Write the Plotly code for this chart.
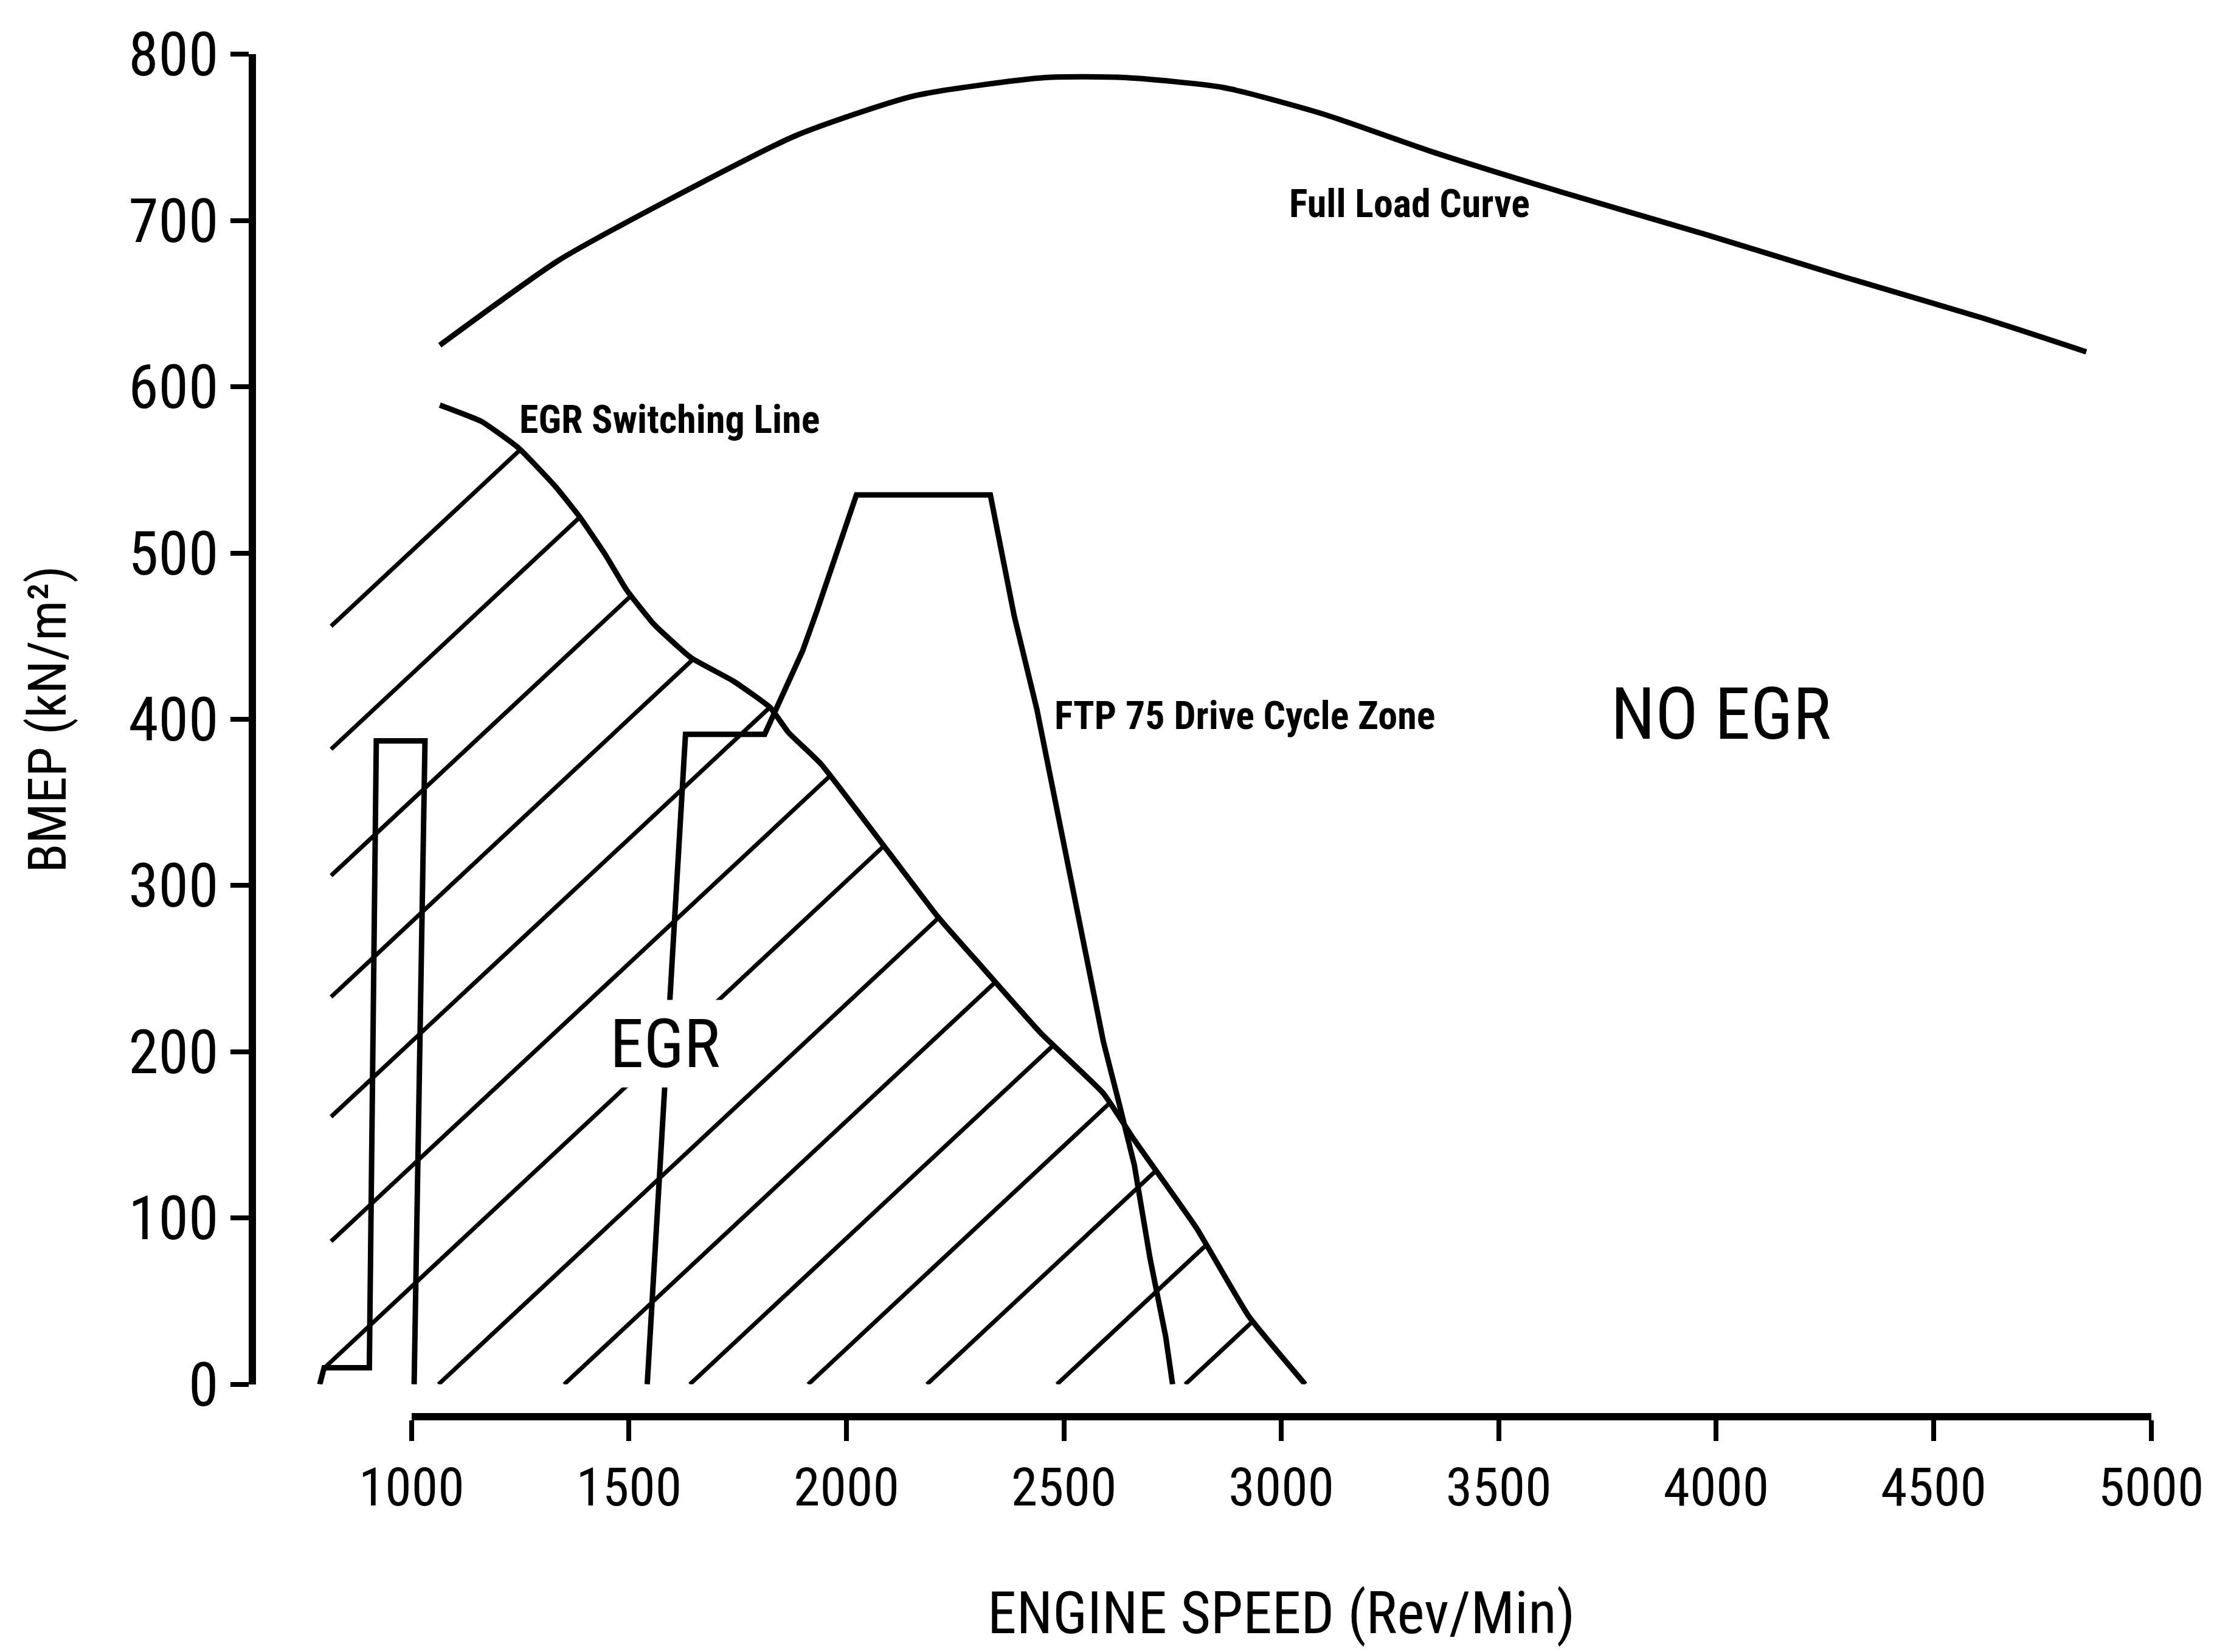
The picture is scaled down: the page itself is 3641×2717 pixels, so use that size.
import numpy as np
import plotly.graph_objects as go

# ---------------- data ----------------
full_load_speed = [1065, 1338, 1581, 1883, 2156, 2458, 2640, 2867, 3097, 3351, 3646, 3971, 4295, 4617, 4851]
full_load_bmep = [625, 676, 711, 751, 775, 786, 786, 780, 764, 741, 717, 692, 666, 641, 621]

switch_speed = [1065, 1162, 1247, 1331, 1386, 1448, 1494, 1558, 1643, 1740, 1825, 1867, 1942,
                2211, 2312, 2448, 2591, 2662, 2805, 2925, 3055]
switch_bmep = [589, 579, 563, 540, 522, 498, 478, 457, 437, 423, 407, 392, 373,
               281, 251, 211, 175, 147, 94, 41, 0]

ftp_speed = [1542, 1630, 1812, 1834, 1867, 1899, 1932, 1974, 2023, 2331, 2386, 2438, 2481,
             2523, 2591, 2627, 2662, 2698, 2734, 2750]
ftp_bmep = [0, 391, 391, 404, 423, 441, 465, 498, 535, 535, 462, 406, 350,
            295, 206, 169, 132, 76, 29, 0]

idle_speed = [1006, 1031, 919, 903, 799, 789]
idle_bmep = [0, 387, 387, 10, 10, 0]

hatch_start_speed = [815, 815, 815, 815, 815, 815, 800, 1062, 1351, 1640, 1912, 2185, 2484, 2779]
hatch_start_bmep = [456, 382, 306, 233, 161, 86, 10, 0, 0, 0, 0, 0, 0, 0]
hatch_slope = 0.244  # kN/m^2 per rev/min

x_tick_vals = [1000, 1500, 2000, 2500, 3000, 3500, 4000, 4500, 5000]
y_tick_vals = [0, 100, 200, 300, 400, 500, 600, 700, 800]

# ---------------- layout geometry ----------------
W, H = 3641, 2717
REF_W, REF_H = 1568, 1170
PX_YAXIS = 178
PX_1000, PX_5000 = 288, 1520
PY_0, PY_800, PY_XAXIS = 977, 35, 1000
x_left = 1000 - (PX_1000 - PX_YAXIS) * 4000 / (PX_5000 - PX_1000)

FONT = "Liberation Sans Narrow, Arial Narrow, Roboto Condensed, DejaVu Sans Condensed, sans-serif"


def hatch_end(x0, y0, m, px, py):
    px = np.asarray(px, float)
    py = np.asarray(py, float)
    for i in range(len(px) - 1):
        fa = py[i] - (y0 + m * (px[i] - x0))
        fb = py[i + 1] - (y0 + m * (px[i + 1] - x0))
        if fa * fb <= 0 and fa != fb:
            t = fa / (fa - fb)
            return px[i] + t * (px[i + 1] - px[i]), py[i] + t * (py[i + 1] - py[i])
    return None


hx, hy = [], []
for xs, ys in zip(hatch_start_speed, hatch_start_bmep):
    end = hatch_end(xs, ys, hatch_slope, switch_speed, switch_bmep)
    if end is None:
        continue
    hx += [xs, end[0], None]
    hy += [ys, end[1], None]

fig = go.Figure()
LW = 9
fig.add_trace(go.Scatter(x=hx, y=hy, mode="lines", line=dict(color="black", width=7),
                         name="EGR zone hatching", hoverinfo="skip"))
fig.add_trace(go.Scatter(x=full_load_speed, y=full_load_bmep, mode="lines",
                         line=dict(color="black", width=LW, shape="spline", smoothing=0.6),
                         name="Full Load Curve"))
fig.add_trace(go.Scatter(x=switch_speed, y=switch_bmep, mode="lines",
                         line=dict(color="black", width=LW, shape="spline", smoothing=0.4),
                         name="EGR Switching Line"))
fig.add_trace(go.Scatter(x=ftp_speed, y=ftp_bmep, mode="lines",
                         line=dict(color="black", width=LW), name="FTP 75 Drive Cycle Zone"))
fig.add_trace(go.Scatter(x=idle_speed, y=idle_bmep, mode="lines",
                         line=dict(color="black", width=LW), name="Idle"))
# carrier for the detached speed axis
fig.add_trace(go.Scatter(x=[None], y=[None], xaxis="x2", yaxis="y", showlegend=False,
                         hoverinfo="skip"))

small = dict(family=FONT, size=64, color="black")
annos = [
    dict(x=3015, y=710, text="<b>Full Load Curve</b>", font=small, xanchor="left"),
    dict(x=1245, y=580, text="<b>EGR Switching Line</b>", font=small, xanchor="left"),
    dict(x=2475, y=402, text="<b>FTP 75 Drive Cycle Zone</b>", font=small, xanchor="left"),
    dict(x=3755, y=403, text="NO EGR", font=dict(family=FONT, size=118, color="black"),
         xanchor="left"),
    dict(x=1446, y=205, text="EGR", font=dict(family=FONT, size=112, color="black"),
         xanchor="left", bgcolor="white", borderpad=6),
]
for a in annos:
    a.update(xref="x", yref="y", showarrow=False, yanchor="middle")

fig.update_layout(
    width=W, height=H, margin=dict(l=0, r=0, t=0, b=0, autoexpand=False),
    paper_bgcolor="white", plot_bgcolor="rgba(0,0,0,0)", showlegend=False,
    annotations=annos,
    xaxis=dict(domain=[PX_YAXIS / REF_W, PX_5000 / REF_W], range=[x_left, 5000],
               automargin=False,
               showline=False, showticklabels=False, ticks="", showgrid=False, zeroline=False),
    xaxis2=dict(domain=[PX_1000 / REF_W, PX_5000 / REF_W], range=[1000, 5000],
                anchor="free", position=1 - PY_XAXIS / REF_H, automargin=False,
                showline=True, linecolor="black", linewidth=12,
                ticks="outside", ticklen=34, tickwidth=8, tickcolor="black",
                tickvals=x_tick_vals, ticklabelstandoff=0, ticklabeloverflow="allow",
                tickfont=dict(family=FONT, size=88, color="black"),
                showgrid=False, zeroline=False,
                title=dict(text="ENGINE SPEED (Rev/Min)", standoff=122,
                           font=dict(family=FONT, size=96, color="black"))),
    yaxis=dict(domain=[1 - PY_0 / REF_H, 1 - PY_800 / REF_H], range=[0, 800],
               anchor="x", automargin=False,
               showline=True, linecolor="black", linewidth=12,
               ticks="outside", ticklen=30, tickwidth=8, tickcolor="black",
               tickvals=y_tick_vals, ticklabelstandoff=0, ticklabeloverflow="allow",
               tickfont=dict(family=FONT, size=100, color="black"),
               showgrid=False, zeroline=False,
               title=dict(text="BMEP (kN/m²)", standoff=78,
                          font=dict(family=FONT, size=88, color="black"))),
)

fig.write_html("out.html")
